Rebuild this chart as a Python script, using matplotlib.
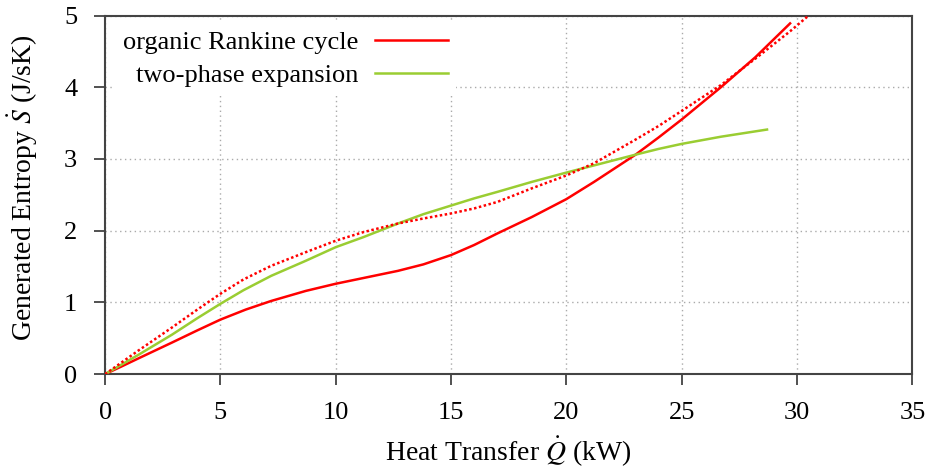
import matplotlib
matplotlib.use("Agg")
import matplotlib.pyplot as plt

# heat transfer (kW) and generated entropy (J/sK)
q_orc = [0, 0.7, 1.45, 2.9, 4, 5, 6.1, 7.2, 8.7, 10, 11.2, 12.7, 13.8, 15, 16, 17, 18.5, 20, 21.2, 23, 24, 25, 26.7, 28.2, 29.7]
s_orc = [0, 0.105, 0.22, 0.44, 0.61, 0.76, 0.90, 1.02, 1.16, 1.26, 1.34, 1.44, 1.53, 1.66, 1.80, 1.96, 2.19, 2.44, 2.68, 3.06, 3.30, 3.55, 4.0, 4.42, 4.89]

# dotted companion curve of the organic Rankine cycle
q_orc_dot = [0, 1.45, 2.9, 4, 5, 6, 7.2, 8.7, 10, 11.2, 12.7, 13.8, 15, 16, 17, 18.5, 20, 21.2, 23, 24, 25, 26.7, 28.2, 29.7, 30.8]
s_orc_dot = [0, 0.33, 0.65, 0.90, 1.12, 1.32, 1.51, 1.70, 1.86, 1.98, 2.10, 2.17, 2.24, 2.31, 2.40, 2.59, 2.77, 2.94, 3.27, 3.46, 3.67, 4.03, 4.40, 4.78, 5.08]

q_tpe = [0, 1.45, 2.9, 4, 5, 6, 7.2, 8.7, 10, 11.2, 12.7, 13.8, 15, 16, 17, 18.5, 20, 21.2, 23, 24, 25, 26.7, 28.7]
s_tpe = [0, 0.27, 0.55, 0.78, 0.98, 1.17, 1.37, 1.58, 1.77, 1.91, 2.10, 2.23, 2.35, 2.45, 2.54, 2.68, 2.81, 2.91, 3.06, 3.14, 3.21, 3.31, 3.41]

x_ticks = [0, 5, 10, 15, 20, 25, 30, 35]
y_ticks = [0, 1, 2, 3, 4, 5]

plt.rcParams['font.family'] = ['Liberation Serif', 'DejaVu Serif']
plt.rcParams['mathtext.fontset'] = 'stix'

fig = plt.figure(figsize=(9.3, 4.7), dpi=100)
ax = fig.add_axes([0.113, 0.204, 0.868, 0.763])

red = '#ff0000'
green = '#9acd32'

ax.plot(q_orc, s_orc, color=red, lw=1.8, label='organic Rankine cycle', zorder=3)
ax.plot(q_tpe, s_tpe, color=green, lw=1.8, label='two-phase expansion', zorder=3)
ax.plot(q_orc_dot, s_orc_dot, color=red, lw=1.8, ls=(0, (1, 1)), zorder=3)

ax.set_xlim(0, 35)
ax.set_ylim(0, 5)
ax.set_xticks(x_ticks)
ax.set_yticks(y_ticks)
ax.tick_params(direction='out', length=8, width=1.2, labelsize=19, color='#333333')
ax.tick_params(axis='x', pad=12)
ax.tick_params(axis='y', pad=12)

for sp in ax.spines.values():
    sp.set_color('#444444')
    sp.set_linewidth(1.5)

ax.grid(True, color='#aaaaaa', ls=(0, (1, 2.5)), lw=1)
ax.set_axisbelow(True)

ax.set_xlabel(r'Heat Transfer $\dot{Q}$ (kW)', fontsize=20, va='center')
ax.set_ylabel(r'Generated Entropy $\dot{S}$ (J/sK)', fontsize=20, va='center')
ax.xaxis.set_label_coords(0.5, -0.218)
ax.yaxis.set_label_coords(-0.102, 0.52)

leg = ax.legend(loc='upper left', fontsize=19, markerfirst=False, handlelength=2.75,
                frameon=True, fancybox=False, borderaxespad=0.0, borderpad=0.3,
                labelspacing=0.35, handletextpad=0.65, bbox_to_anchor=(0.012, 0.98))
leg.get_frame().set_edgecolor('none')
leg.get_frame().set_facecolor('white')
leg.get_frame().set_alpha(1)
for t in leg.get_texts():
    t.set_ha('right')

fig.savefig('out.png', dpi=100)
